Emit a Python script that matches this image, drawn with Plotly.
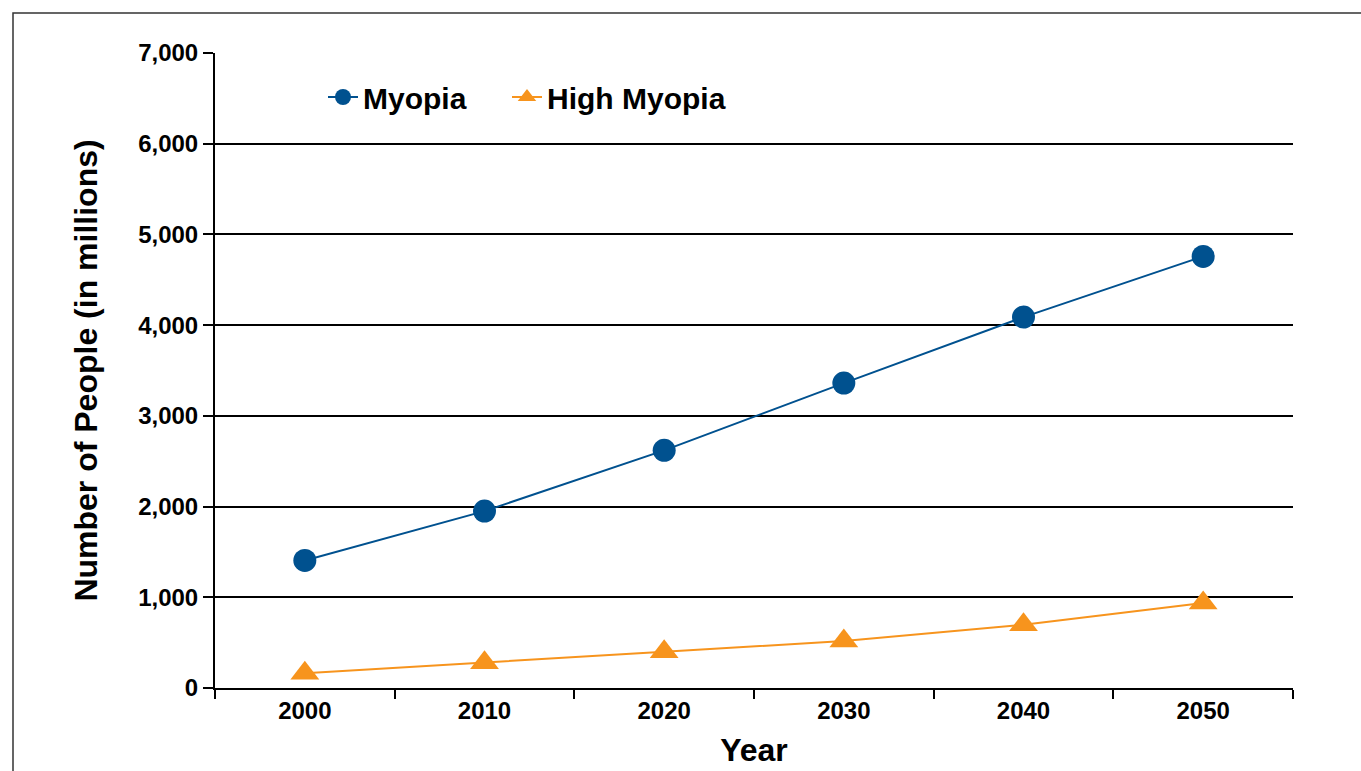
import plotly.graph_objects as go

years = ["2000", "2010", "2020", "2030", "2040", "2050"]
myopia = [1406, 1950, 2620, 3361, 4089, 4758]
high_myopia = [163, 277, 399, 517, 696, 938]
y_ticks = [0, 1000, 2000, 3000, 4000, 5000, 6000, 7000]

BLUE = "#00518f"
ORANGE = "#f7941d"
FONT = "Liberation Sans, Arial, sans-serif"

fig = go.Figure()
fig.add_trace(go.Scatter(
    x=years, y=myopia, name="Myopia", mode="lines+markers",
    line=dict(color=BLUE, width=2),
    marker=dict(symbol="circle", size=23, color=BLUE),
    legend="legend",
))
fig.add_trace(go.Scatter(
    x=years, y=high_myopia, name="High Myopia", mode="lines+markers",
    line=dict(color=ORANGE, width=2),
    marker=dict(symbol="triangle-up", size=25, color=ORANGE),
    legend="legend2",
))

L, R, T, B = 215, 68, 53, 83
W, H = 1361, 771
pw, ph = W - L - R, H - T - B

legend_common = dict(
    orientation="h", y=(H - B - 97) / ph,
    xanchor="left", yanchor="middle",
    font=dict(size=30, family=FONT, color="black", weight="bold"),
    bgcolor="rgba(0,0,0,0)", itemsizing="trace",
)

fig.update_layout(
    width=W, height=H,
    margin=dict(l=L, r=R, t=T, b=B, autoexpand=False),
    paper_bgcolor="white", plot_bgcolor="white",
    font=dict(family=FONT, color="black"),
    showlegend=True,
    legend=dict(x=(323 - L) / pw, **legend_common),
    legend2=dict(x=(507 - L) / pw, **legend_common),
    xaxis=dict(
        type="category", range=[-0.5, 5.5], tickson="boundaries",
        ticks="outside", ticklen=9, tickwidth=2, tickcolor="black",
        showline=True, linecolor="black", linewidth=2, showgrid=False,
        tickfont=dict(size=24, family=FONT, weight="bold"),
        title=dict(text="<b>Year</b>", font=dict(size=32, family=FONT), standoff=16),
        zeroline=False, automargin=False,
    ),
    yaxis=dict(
        range=[0, 7000], tickvals=y_ticks, tickformat=",",
        ticks="outside", ticklen=10, tickwidth=2, tickcolor="black",
        showline=True, linecolor="black", linewidth=2,
        showgrid=True, gridcolor="black", gridwidth=2,
        tickfont=dict(size=24, family=FONT, weight="bold"),
        title=dict(text="<b>Number of People (in millions)</b>", font=dict(size=32, family=FONT), standoff=31),
        zeroline=False, automargin=False,
    ),
    shapes=[dict(
        type="rect", xref="paper", yref="paper",
        x0=(13 - L) / pw, x1=1.5, y0=-0.5, y1=(H - B - 13) / ph,
        line=dict(color="#333333", width=1.5), fillcolor="rgba(0,0,0,0)", layer="below",
    )],
)

fig.write_html("out.html")
